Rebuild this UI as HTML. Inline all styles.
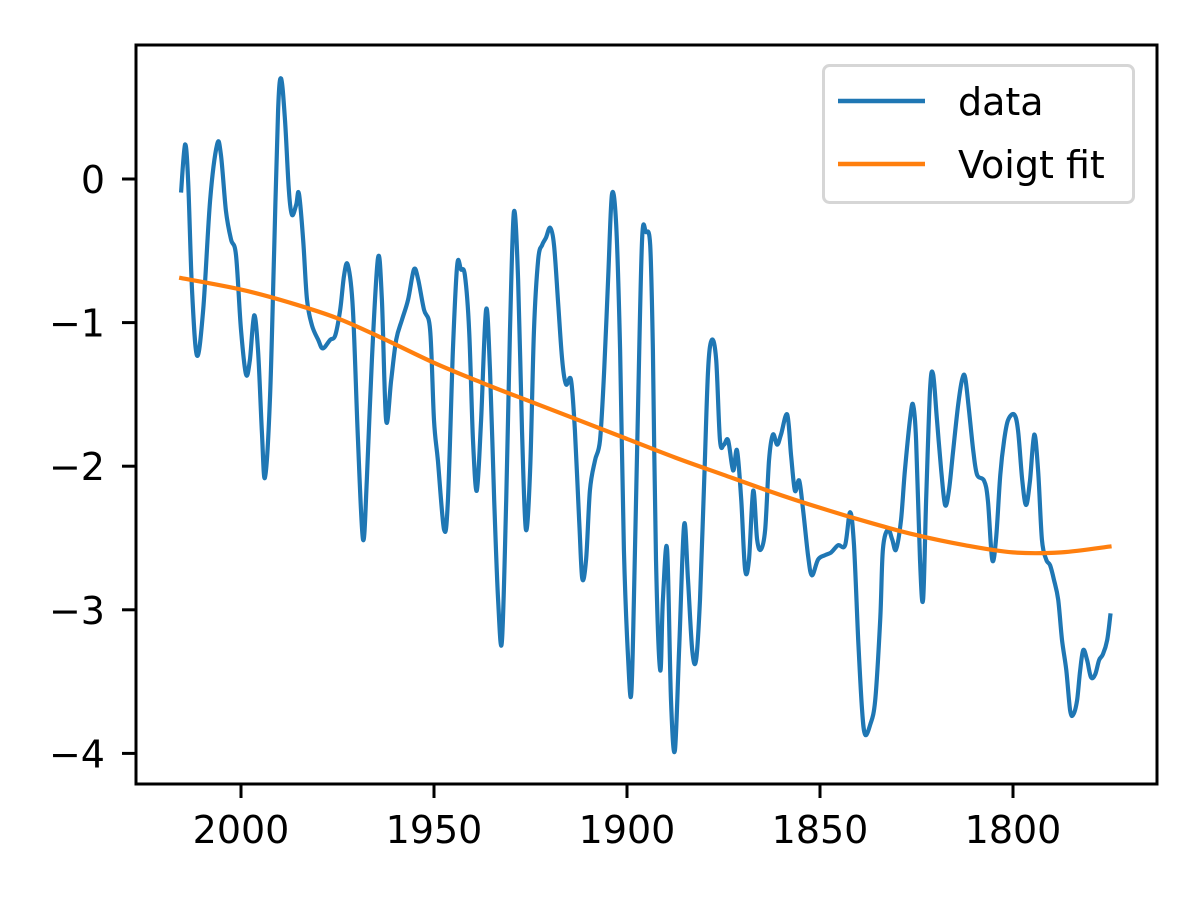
<!DOCTYPE html>
<html><head><meta charset="utf-8"><style>
html,body{margin:0;padding:0;background:#fff;}
svg{display:block;font-family:"DejaVu Sans","Liberation Sans",sans-serif;}
</style></head><body>
<svg id="chart" width="1200" height="900" viewBox="0 0 1200 900" xmlns="http://www.w3.org/2000/svg">
<rect x="0" y="0" width="1200" height="900" fill="#fff"/>
<g id="marks"></g>
<g id="axes"></g>
<g>
<rect x="823.5" y="65.5" width="310" height="137" rx="6" fill="#fff" fill-opacity="0.8" stroke="#d6d6d6" stroke-width="3"/>
<line x1="838" y1="101" x2="925" y2="101" stroke="#1f77b4" stroke-width="4.5"/>
<text x="958" y="115" font-size="38" fill="#000">data</text>
<line x1="838" y1="164" x2="925" y2="164" stroke="#ff7f0e" stroke-width="4.5"/>
<text x="958" y="178" font-size="38" fill="#000">Voigt fit</text>
</g>
</svg>
<script>
const dataYears=[2015.5,2014.5,2013.7,2012.7,2011.4,2009.8,2008.0,2006.2,2005.2,2003.9,2002.6,2001.3,2000,1998.7,1997.7,1996.6,1995.6,1994.6,1993.8,1992.5,1991.4,1990.4,1989.6,1988.6,1987.6,1986.8,1985.7,1985.0,1983.9,1982.9,1981.6,1980.0,1978.8,1976.9,1975.6,1974.3,1973.3,1972.3,1971.0,1969.7,1968.4,1967.4,1966.1,1964.5,1963.5,1962.4,1961.1,1959.8,1958.3,1956.7,1955.2,1954.1,1952.6,1951.0,1950.0,1949.0,1947.4,1946.4,1945.1,1944.0,1943.0,1942.0,1940.9,1939.9,1938.9,1937.8,1936.5,1935.5,1934.4,1933.4,1932.4,1931.3,1930.3,1929.3,1928.2,1927.2,1926.2,1925.1,1924.1,1923.0,1922.0,1921.0,1919.9,1918.9,1917.9,1916.8,1915.8,1914.5,1913.5,1912.4,1911.6,1910.6,1909.6,1908.3,1907.0,1905.9,1904.9,1903.9,1902.8,1901.8,1900.8,1899.7,1898.9,1898.2,1897.1,1896.1,1895.1,1894.0,1893.3,1892.5,1891.4,1890.7,1889.6,1888.6,1887.6,1886.5,1885.2,1884.2,1883.1,1882.1,1881.1,1880.0,1879.0,1878.0,1876.9,1875.9,1874.9,1873.8,1872.5,1871.5,1870.4,1869.4,1868.4,1867.3,1866.3,1865.3,1864.2,1863.2,1862.2,1861.1,1860.1,1858.5,1857.5,1856.5,1855.4,1854.4,1853.1,1852.1,1850.5,1848.7,1847.1,1845.3,1843.5,1842.2,1841.2,1840.1,1839.1,1838.3,1837.0,1835.7,1834.4,1833.7,1832.4,1831.3,1830.3,1829.0,1828.0,1826.7,1825.9,1825.1,1824.1,1823.3,1822.5,1821.5,1820.7,1819.7,1818.6,1817.6,1816.6,1815.5,1814.2,1813.2,1812.4,1811.4,1810.3,1809.3,1807.5,1806.5,1805.4,1804.4,1803.3,1802.3,1801.3,1799.7,1798.7,1797.6,1796.6,1795.6,1794.5,1793.5,1792.5,1791.4,1790.4,1789.4,1788.3,1787.3,1786.2,1785.2,1784.4,1783.4,1782.6,1781.8,1780.8,1779.8,1778.7,1777.7,1776.7,1775.6,1774.8];
const dataValues=[-0.08,0.24,-0.01,-0.77,-1.23,-0.91,-0.15,0.24,0.17,-0.22,-0.42,-0.53,-1.05,-1.36,-1.26,-0.95,-1.19,-1.75,-2.08,-1.54,-0.49,0.48,0.70,0.41,-0.08,-0.25,-0.18,-0.10,-0.42,-0.84,-1.02,-1.12,-1.18,-1.12,-1.09,-0.91,-0.67,-0.60,-0.91,-1.82,-2.51,-2.10,-1.26,-0.55,-0.84,-1.68,-1.40,-1.12,-0.98,-0.84,-0.63,-0.70,-0.91,-1.05,-1.68,-1.96,-2.44,-2.24,-1.19,-0.60,-0.63,-0.67,-1.05,-1.82,-2.17,-1.68,-0.91,-1.33,-2.24,-2.93,-3.22,-2.24,-1.05,-0.23,-0.70,-1.75,-2.44,-2.03,-1.05,-0.56,-0.46,-0.41,-0.34,-0.46,-0.84,-1.26,-1.43,-1.40,-1.75,-2.37,-2.78,-2.65,-2.17,-1.96,-1.82,-1.33,-0.70,-0.11,-0.32,-1.19,-2.58,-3.35,-3.59,-2.93,-1.54,-0.42,-0.37,-0.46,-1.19,-2.65,-3.42,-2.93,-2.58,-3.63,-3.98,-3.28,-2.41,-2.79,-3.28,-3.35,-2.93,-2.10,-1.33,-1.12,-1.26,-1.82,-1.85,-1.82,-2.03,-1.89,-2.24,-2.72,-2.65,-2.17,-2.51,-2.58,-2.44,-1.96,-1.78,-1.85,-1.78,-1.64,-1.92,-2.17,-2.10,-2.30,-2.62,-2.76,-2.65,-2.62,-2.60,-2.55,-2.55,-2.32,-2.55,-3.21,-3.70,-3.87,-3.80,-3.63,-3.07,-2.58,-2.44,-2.51,-2.58,-2.37,-2.03,-1.68,-1.57,-1.82,-2.65,-2.93,-2.24,-1.47,-1.36,-1.68,-2.03,-2.27,-2.17,-1.89,-1.57,-1.40,-1.38,-1.61,-1.89,-2.06,-2.10,-2.24,-2.65,-2.51,-2.06,-1.82,-1.68,-1.64,-1.75,-2.10,-2.27,-2.10,-1.78,-2.03,-2.51,-2.65,-2.69,-2.79,-2.93,-3.21,-3.42,-3.70,-3.73,-3.63,-3.42,-3.28,-3.35,-3.47,-3.45,-3.35,-3.31,-3.21,-3.04];
const fitYears=[2015.5,2000,1987.5,1975,1962.5,1950,1937.5,1925,1912.5,1900,1887.5,1875,1862.5,1850,1837.5,1825,1812.5,1800,1787.5,1775];
const fitValues=[-0.69,-0.77,-0.86,-0.97,-1.12,-1.28,-1.42,-1.55,-1.68,-1.81,-1.94,-2.06,-2.18,-2.29,-2.39,-2.48,-2.55,-2.60,-2.60,-2.56];
const xTicks=[2000,1950,1900,1850,1800];
const yTicks=[0,-1,-2,-3,-4];

const NS="http://www.w3.org/2000/svg";
const L=136,R=1157,T=45,B=784;
function xs(yr){return 241+(2000-yr)*3.86;}
function ys(v){return 179-v*143.6;}
const marks=document.getElementById('marks');
const axes=document.getElementById('axes');
function mk(tag,attrs,parent){const e=document.createElementNS(NS,tag);for(const k in attrs)e.setAttribute(k,attrs[k]);parent.appendChild(e);return e;}

function smooth(xa,va){
  const p=xa.map((y,i)=>[xs(y),ys(va[i])]);
  let d='M'+p[0][0].toFixed(1)+','+p[0][1].toFixed(1);
  for(let i=0;i<p.length-1;i++){
    const p0=p[Math.max(0,i-1)],p1=p[i],p2=p[i+1],p3=p[Math.min(p.length-1,i+2)];
    const c1=[p1[0]+(p2[0]-p0[0])/6,p1[1]+(p2[1]-p0[1])/6];
    const c2=[p2[0]-(p3[0]-p1[0])/6,p2[1]-(p3[1]-p1[1])/6];
    d+=' C'+c1[0].toFixed(1)+','+c1[1].toFixed(1)+' '+c2[0].toFixed(1)+','+c2[1].toFixed(1)+' '+p2[0].toFixed(1)+','+p2[1].toFixed(1);
  }
  return d;
}
const dl=mk('path',{d:smooth(dataYears,dataValues),fill:'none',stroke:'#1f77b4','stroke-width':4.2,'stroke-linejoin':'round','stroke-linecap':'square'},marks);


const fl=mk('path',{d:smooth(fitYears,fitValues),fill:'none',stroke:'#ff7f0e','stroke-width':4.2,'stroke-linejoin':'round','stroke-linecap':'square'},marks);



const frame=mk('rect',{x:L,y:T,width:R-L,height:B-T,fill:'none',stroke:'#000','stroke-width':3},axes);


xTicks.forEach(t=>{
  const x=xs(t);
  const tk=mk('line',{x1:x,y1:B,x2:x,y2:B+14,stroke:'#000','stroke-width':3},axes);
  
  
  const tx=mk('text',{x:x,y:843,'font-size':38,'text-anchor':'middle',fill:'#000'},axes);
  tx.textContent=t;
  
  
});
yTicks.forEach(t=>{
  const y=ys(t);
  const tk=mk('line',{x1:L-14,y1:y,x2:L,y2:y,stroke:'#000','stroke-width':3},axes);
  
  
  const tx=mk('text',{x:105,y:y+14,'font-size':38,'text-anchor':'end',fill:'#000'},axes);
  tx.textContent=t<0?'\u2212'+Math.abs(t):String(t);
  
  
});
</script>
</body></html>
